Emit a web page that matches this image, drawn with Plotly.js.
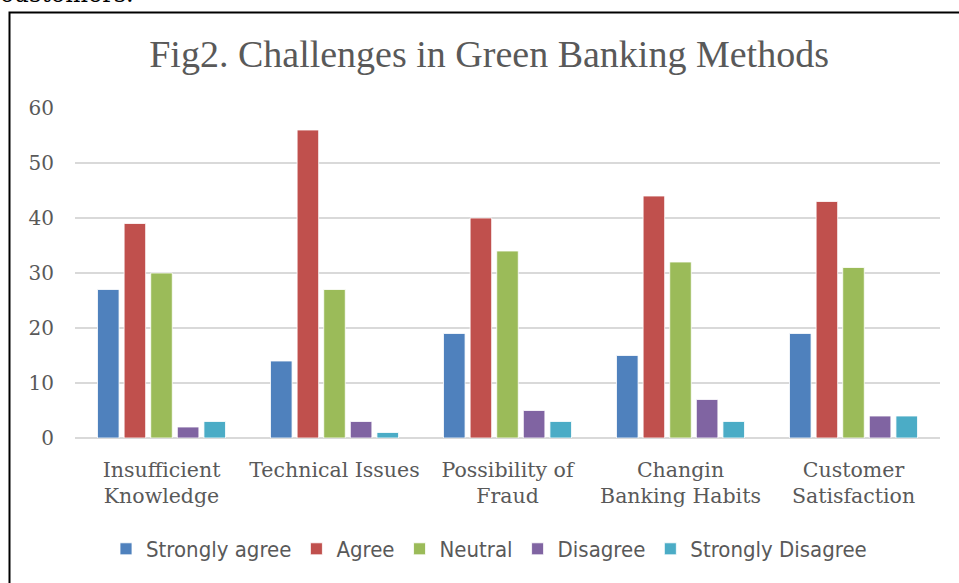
<!DOCTYPE html>
<html>
<head>
<meta charset="utf-8">
<script src="https://cdn.plot.ly/plotly-3.0.1.min.js"></script>
<style>
  html, body { margin: 0; padding: 0; background: #ffffff; }
  #chart { width: 959px; height: 583px; }
</style>
</head>
<body>
<div id="chart"></div>
<script>
// Survey responses on the challenges of green banking methods
const categories = [
  "Insufficient<br>Knowledge",
  "Technical Issues",
  "Possibility of<br>Fraud",
  "Changin<br>Banking Habits",
  "Customer<br>Satisfaction"
];
const seriesNames = ["Strongly agree", "Agree", "Neutral", "Disagree", "Strongly Disagree"];
const stronglyAgree    = [27, 14, 19, 15, 19];
const agree            = [39, 56, 40, 44, 43];
const neutral          = [30, 27, 34, 32, 31];
const disagree         = [2, 3, 5, 7, 4];
const stronglyDisagree = [3, 1, 3, 3, 4];
const yTicks = [0, 10, 20, 30, 40, 50, 60];

const seriesValues = [stronglyAgree, agree, neutral, disagree, stronglyDisagree];
const seriesColors = ["#4F81BD", "#C0504D", "#9BBB59", "#8064A2", "#4BACC6"];

const traces = seriesValues.map((vals, i) => ({
  type: "bar",
  name: seriesNames[i],
  x: categories,
  y: vals,
  marker: { color: seriesColors[i], line: { color: "#ffffff", width: 0.8 } },
  hoverinfo: "x+y+name"
}));

// plot area in pixels, used to place the frame lines and the text above it
const W = 959, H = 583;
const M = { l: 75, r: 19, t: 108, b: 145 };
const pw = W - M.l - M.r, ph = H - M.t - M.b;
const px = v => (v - M.l) / pw;
const py = v => (H - M.b - v) / ph;

const grey = "#595959";
const serif = "DejaVu Serif, Liberation Serif, serif";

const layout = {
  width: W,
  height: H,
  margin: M,
  paper_bgcolor: "#ffffff",
  plot_bgcolor: "#ffffff",
  barmode: "group",
  bargap: 0.231,
  bargroupgap: 0.19,
  showlegend: true,
  title: {
    text: "Fig2. Challenges in Green Banking Methods",
    font: { family: "Liberation Serif, serif", size: 38, color: grey },
    x: 0.51,
    xanchor: "center",
    y: 1 - 54 / H,
    yanchor: "middle"
  },
  xaxis: {
    type: "category",
    showgrid: false,
    showline: false,
    zeroline: false,
    ticks: "",
    tickfont: { family: serif, size: 20.5, color: grey },
    ticklabelstandoff: 17,
    fixedrange: true
  },
  yaxis: {
    range: [0, 60],
    tickvals: yTicks,
    ticktext: yTicks.map(String),
    showgrid: true,
    gridcolor: "#D9D9D9",
    gridwidth: 1.5,
    zeroline: true,
    zerolinecolor: "#D9D9D9",
    zerolinewidth: 1.5,
    showline: false,
    ticks: "",
    tickfont: { family: serif, size: 20, color: grey },
    ticklabelstandoff: 20,
    fixedrange: true
  },
  legend: {
    orientation: "h",
    x: px(489),
    xanchor: "center",
    y: py(549),
    yanchor: "middle",
    font: { family: "DejaVu Sans Condensed, Liberation Sans Narrow, sans-serif", size: 22, color: grey },
    traceorder: "normal",
    itemclick: false,
    itemdoubleclick: false
  },
  shapes: [
    {
      type: "path",
      xref: "paper",
      yref: "paper",
      path: "M " + px(9.5) + " " + py(H + 2) + " L " + px(9.5) + " " + py(12.5) +
            " L " + px(W + 2) + " " + py(12.5),
      line: { color: "#000000", width: 2 }
    }
  ],
  annotations: [
    {
      text: "customers.",
      xref: "paper",
      yref: "paper",
      x: px(-2),
      y: py(10),
      xanchor: "left",
      yanchor: "bottom",
      showarrow: false,
      font: { family: serif, size: 24, color: "#000000" }
    }
  ]
};

Plotly.newPlot("chart", traces, layout, { displayModeBar: false, staticPlot: true });
</script>
</body>
</html>
